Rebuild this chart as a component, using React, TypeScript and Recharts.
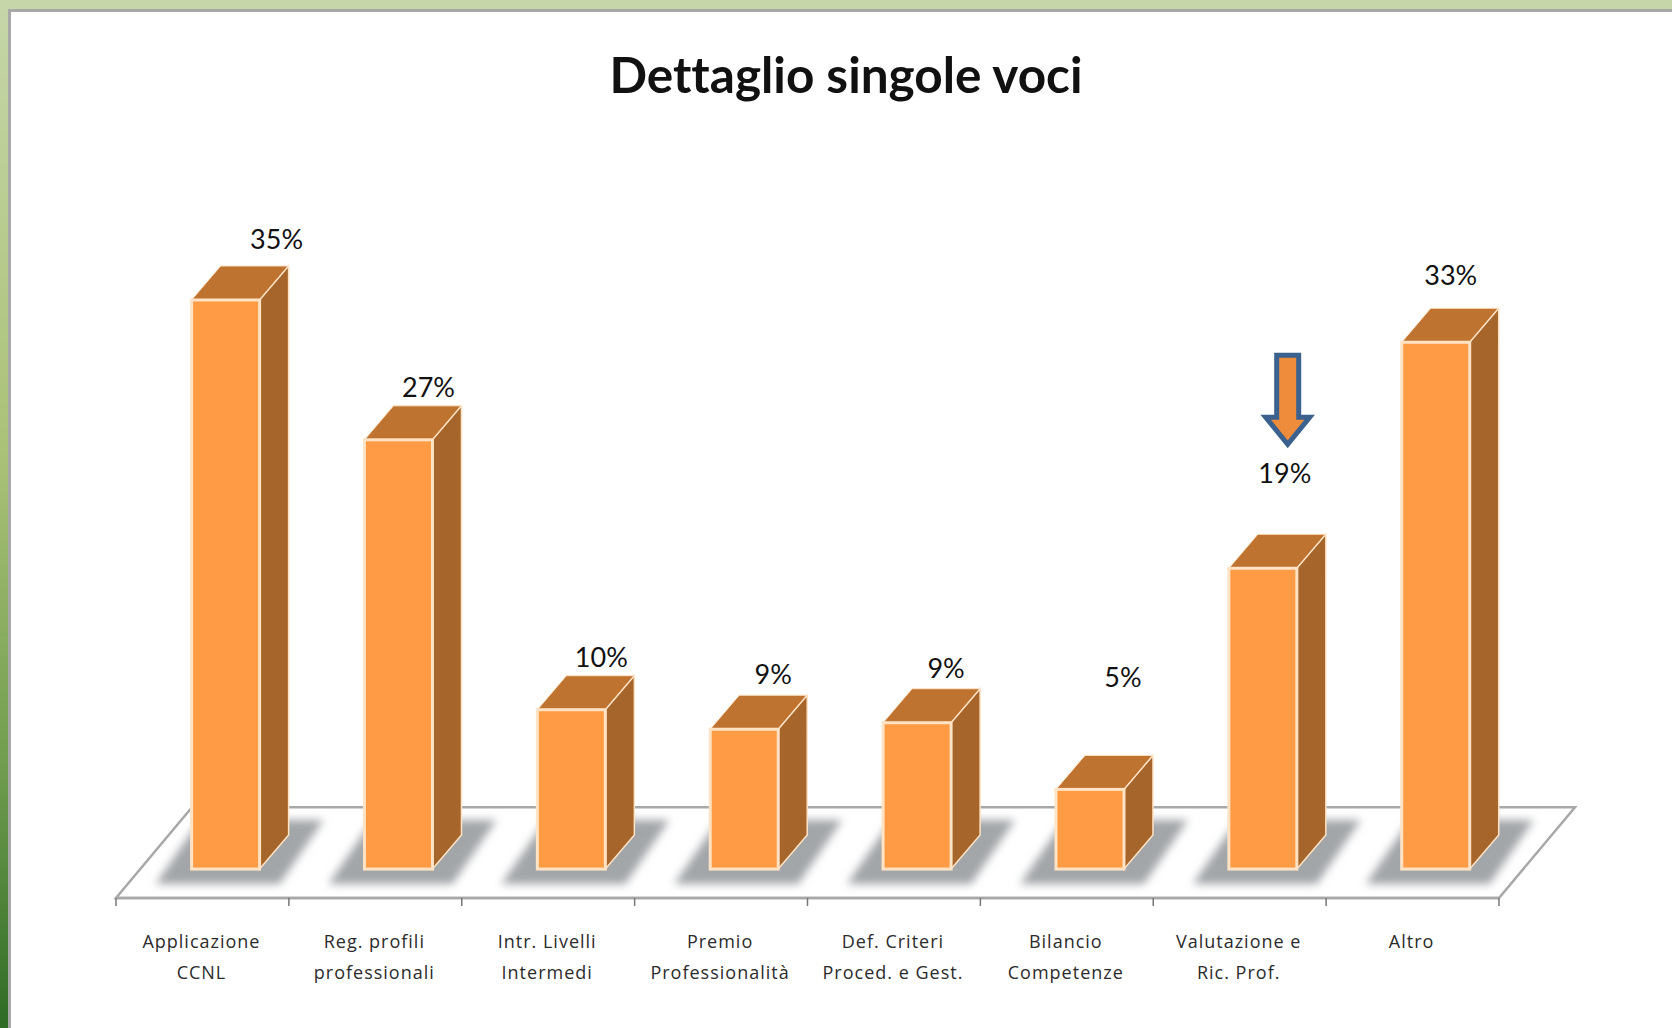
import React from 'react';
import { BarChart, Bar, XAxis, YAxis, LabelList, ReferenceArea, ReferenceDot } from 'recharts';

const categories = [
  'Applicazione\nCCNL',
  'Reg. profili\nprofessionali',
  'Intr. Livelli\nIntermedi',
  'Premio\nProfessionalità',
  'Def. Criteri\nProced. e Gest.',
  'Bilancio\nCompetenze',
  'Valutazione e\nRic. Prof.',
  'Altro',
];
const values = [35, 26.4, 9.8, 8.6, 9.0, 4.9, 18.5, 32.4];
const valueLabels = ['35%', '27%', '10%', '9%', '9%', '5%', '19%', '33%'];

// hand placed labels in the original slide
const labelDx = [51, 30, 30, 29, 29, 33, 22, 15];
const labelDy = [27, 19, 19, 22, 21, 79, 62, 34];

const data = categories.map((name, i) => ({ name, value: values[i], label: valueLabels[i] }));

const FONT = 'Lato, sans-serif';
const BAR_SHIFT = 23.6;
const DEPTH_X = 29;
const DEPTH_Y = 34;
const FLOOR_SKEW = 76;
const BAND = 172.875;

const pts = (list: number[][]) => list.map((p) => p.join(',')).join(' ');

const Bar3D = (props: any) => {
  const { x, y, width, height } = props;
  const x0 = x + BAR_SHIFT;
  const x1 = x0 + width;
  const bottom = y + height;
  return (
    <g>
      <polygon
        points={pts([[x0 - 36, bottom + 15], [x0 + 88, bottom + 15], [x0 + 132, bottom - 49], [x0 + 8, bottom - 49]])}
        fill="#a3a6a9"
        filter="url(#floorBlur)"
      />
      <polygon
        points={pts([[x0, y], [x0 + DEPTH_X, y - DEPTH_Y], [x1 + DEPTH_X, y - DEPTH_Y], [x1, y]])}
        fill="#bf7331"
        stroke="#ffe3c4"
        strokeWidth={1}
      />
      <polygon
        points={pts([[x1, y], [x1 + DEPTH_X, y - DEPTH_Y], [x1 + DEPTH_X, bottom - DEPTH_Y], [x1, bottom]])}
        fill="#a6652a"
        stroke="#ffe3c4"
        strokeWidth={1.5}
      />
      <rect x={x0} y={y} width={width} height={height} fill="#ff9a45" stroke="#ffe3c4" strokeWidth={3} />
    </g>
  );
};

const Floor = (props: any) => {
  const { x, y, width, height } = props;
  const back = y;
  const front = y + height;
  return (
    <polygon
      points={pts([[x, front], [x + width, front], [x + width + FLOOR_SKEW, back], [x + FLOOR_SKEW, back]])}
      fill="#ffffff"
      stroke="#a8a8a8"
      strokeWidth={2.5}
    />
  );
};

const ValueLabel = (props: any) => {
  const { x, y, width, index } = props;
  return (
    <text
      x={x + BAR_SHIFT + width / 2 + labelDx[index]}
      y={y - DEPTH_Y - labelDy[index]}
      textAnchor="middle"
      dominantBaseline="central"
      fontFamily={FONT}
      fontSize={27}
      fill="#111111"
    >
      {valueLabels[index]}
    </text>
  );
};

// the original has its ticks between the categories, not under them
const CategoryTick = (props: any) => {
  const { x, payload, index } = props;
  const lines = String(payload.value).split('\n');
  const isLast = index === categories.length - 1;
  return (
    <g>
      <line x1={x - BAND / 2} x2={x - BAND / 2} y1={898} y2={906} stroke="#777777" strokeWidth={1.5} />
      {isLast && <line x1={x + BAND / 2} x2={x + BAND / 2} y1={898} y2={906} stroke="#777777" strokeWidth={1.5} />}
      <text textAnchor="middle" fontFamily="'Open Sans', sans-serif" fontSize={18} letterSpacing={1} fill="#2b2b2b">
        {lines.map((line, i) => (
          <tspan key={i} x={x - 1} y={948 + i * 31}>
            {line}
          </tspan>
        ))}
      </text>
    </g>
  );
};

const Arrow = (props: any) => {
  const { cx, cy } = props;
  const c = cx + 48;
  const tip = cy - 124;
  return (
    <polygon
      points={pts([
        [c - 11, tip - 89], [c + 11, tip - 89], [c + 11, tip - 27], [c + 22, tip - 27],
        [c, tip], [c - 22, tip - 27], [c - 11, tip - 27],
      ])}
      fill="#ee8c3c"
      stroke="#3b618f"
      strokeWidth={5}
    />
  );
};

export default function App() {
  return (
    <div style={{ position: 'fixed', left: 0, top: 0, width: 1672, height: 1028, background: '#c6d6a9', overflow: 'hidden' }}>
      <div
        style={{
          position: 'absolute', left: 0, top: 0, width: 8, height: 1028,
          background: 'linear-gradient(to bottom, #c6d6a9 0%, #a9c176 45%, #6f9c4e 75%, #2f6b25 100%)',
        }}
      />
      <div
        style={{
          position: 'absolute', left: 8, top: 9, width: 1664, height: 1019, background: '#ffffff',
          borderLeft: '3px solid #a8a8a8', borderTop: '3px solid #a8a8a8', boxSizing: 'border-box',
        }}
      />
      <div
        style={{
          position: 'absolute', left: 0, top: 39, width: 1692, textAlign: 'center',
          fontFamily: FONT, fontWeight: 700, fontSize: 49.5, lineHeight: '70px', color: '#111111',
          fontVariantLigatures: 'none',
        }}
      >
        Dettaglio singole voci
      </div>
      <div style={{ position: 'absolute', left: 0, top: 0 }}>
        <BarChart
          width={1672}
          height={1028}
          data={data}
          margin={{ top: 100, right: 173, bottom: 129, left: 116 }}
          barSize={68}
          style={{ overflow: 'visible' }}
        >
          <defs>
            <filter id="floorBlur" x="-20%" y="-30%" width="140%" height="160%">
              <feGaussianBlur stdDeviation="4.5" />
            </filter>
          </defs>
          <XAxis
            dataKey="name"
            height={1}
            interval={0}
            axisLine={{ stroke: '#a8a8a8', strokeWidth: 2.5 }}
            tickLine={false}
            tick={<CategoryTick />}
          />
          <YAxis hide domain={[-1.78, 47.3]} />
          <ReferenceArea y1={-1.78} y2={3.8} ifOverflow="visible" shape={<Floor />} />
          <Bar dataKey="value" isAnimationActive={false} shape={<Bar3D />}>
            <LabelList dataKey="label" content={<ValueLabel />} />
          </Bar>
          <ReferenceDot x={categories[6]} y={values[6]} ifOverflow="visible" shape={<Arrow />} />
        </BarChart>
      </div>
    </div>
  );
}
